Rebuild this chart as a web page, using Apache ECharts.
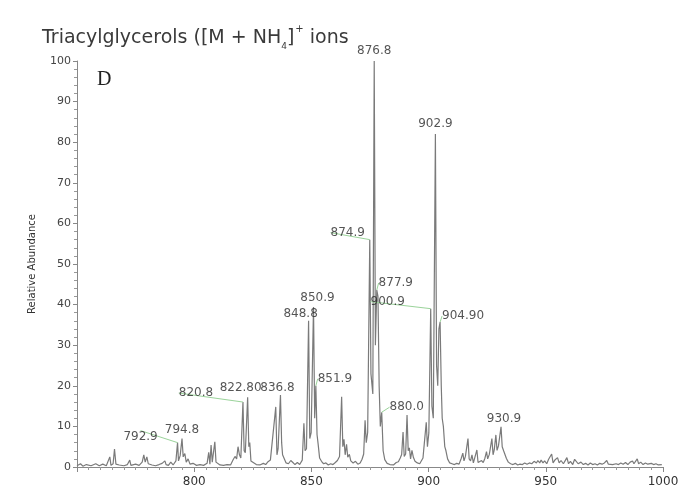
<!DOCTYPE html>
<html>
<head>
<meta charset="utf-8">
<script src="https://cdn.jsdelivr.net/npm/echarts@6/dist/echarts.min.js"></script>
<style>html,body{margin:0;padding:0;background:#fff}#c{width:695px;height:503px}</style>
</head>
<body>
<div id="c"></div>
<script>
// m/z values of the profile spectrum
const mzValues = [750,751.5,752.5,754,756,758,759.5,761,762.5,763.3,764,764.5,765.4,766,766.6,768,770,771.5,772.5,773,775,776.5,777.8,778.5,779.1,779.8,780.4,782,783.5,785,786.3,787.5,788,789,790,791,792.2,792.9,793.3,794,794.8,795.3,796,796.6,797.4,798.2,799.5,801,802.5,804,805.5,806.2,806.7,807.2,807.7,808.2,808.8,809.3,810,811,812.5,814,815.5,816.6,817.4,818.1,818.7,819.3,819.9,820.8,821.3,821.8,822.8,823.3,823.7,824.2,825,826.5,828,829.5,830.5,831.5,832.5,833.3,834.8,835.3,835.8,836.8,837.3,837.7,838.4,839.2,840.2,841.2,842.1,843,844,845,846.1,846.8,847.3,847.9,848.8,849.3,849.9,850.9,851.4,851.9,852.4,852.9,853.5,854.3,855.2,856.2,857.2,858.2,859.2,860.2,861.1,862,862.9,863.4,863.9,864.4,865,865.5,866.2,866.8,867.8,868.8,869.8,870.8,871.6,872.3,872.9,873.4,874,874.9,875.4,876.2,876.8,877.3,877.9,878.4,878.9,879.4,880,880.6,881.3,882.3,883.5,885,886.2,887.1,887.9,888.5,889.1,889.6,890.2,890.8,891.3,891.8,892.3,892.9,893.5,894.2,895.2,896.2,897,897.6,898.2,899,899.5,900.1,900.9,901.4,902,902.9,903.4,903.9,904.4,904.9,905.4,905.8,906.3,906.9,907.4,908.1,909,910,911,912,913,913.9,914.6,915.1,915.7,916.8,917.3,917.9,918.5,919.1,919.7,920.6,921.1,921.9,922.6,923.3,924,924.7,925.2,925.9,927,927.5,928,928.7,929.2,929.8,930.9,931.4,932,932.6,933.2,934,935,936,937,938,939,940,941,942,943,944,945,946,946.6,947.4,948,948.8,949.5,950.4,951.2,952.5,953.1,954,955,955.7,956.5,957.5,958.4,959,959.7,960.5,961.5,962.3,963,963.8,965,966,967,968,969,970,971,972,973,974,975,976,976.7,977.5,978.5,980,981,982,983,984,985,986,987,987.6,988.3,989,989.6,990.5,991.5,992.5,993.5,995,996,997,998,999.5];
// relative abundance at each m/z above
const abundance = [0.3,0.8,0.2,0.6,0.3,0.8,0.3,0.7,0.3,0.6,2.5,0.4,0.8,4.4,0.7,0.5,0.3,0.6,1.7,0.4,0.7,0.4,1.2,3,1.2,2.5,0.8,0.5,0.3,0.6,0.9,1.5,0.6,0.4,1.2,0.5,1.5,6,1.5,2.8,7,2.5,3.3,1.2,2,0.7,0.9,0.4,0.6,0.4,0.9,3.6,0.7,5.4,1.2,1.6,6.2,1.2,1.4,0.5,0.4,0.6,0.5,1.8,2.6,2,5,3,2.2,16,4,3.5,17.2,5,6,1.5,1.1,0.6,0.5,0.9,0.6,1.3,1.7,1.3,14.8,3,4.5,17.7,6,3,2.6,1,0.8,1.6,1.1,0.6,1.1,0.6,1.7,10.8,4,4.5,36,7,8.5,39.4,12,20,8,5.5,2.2,1.4,0.8,1,0.5,0.8,0.6,1.1,1.6,2.6,17.3,5,6.8,3,5.6,2.4,3.1,1.5,1,1.4,0.7,1,1.9,3.2,11.5,6,8.5,56,23,18,100,30,43.6,42,20,10,13.5,4,1.8,0.9,0.6,0.5,1.1,1.3,2.2,3.1,8.6,2.6,3.2,12.8,4,4.7,2,4.1,2.4,1.4,1,0.8,1.6,2.2,6,11,5,8.4,39,15,12,82,25,20,34,35.7,20,12,10,5,4,2,1,0.8,0.6,0.9,0.7,2.1,3.4,1.5,2.6,7,2,1.5,3,1,1.3,4.2,1.1,0.8,1.6,1.1,2.1,3.8,2,3.1,7,3,4.2,7.9,4.1,5.2,9.9,5,4,4.2,2.1,1.2,0.8,0.6,0.9,0.5,0.7,0.6,1,0.7,1,0.8,1.4,1,1.6,1,1.7,1,1.5,0.8,1.9,3.2,1,1.8,2.3,1,1.6,0.8,1.7,2.3,0.8,1.4,0.6,1.9,2.1,0.8,1.2,0.6,0.9,0.5,1,0.6,0.8,0.5,0.9,0.7,1,1.6,0.7,1.1,0.6,0.8,0.6,1,0.7,1.1,0.6,1.2,1.5,0.8,1.1,2,0.8,1.2,0.6,1,0.7,0.9,0.6,0.8,0.5,0.6];
// labelled peaks
const peakMz = [792.9,794.8,820.8,822.8,836.8,848.8,850.9,851.9,874.9,876.8,877.9,880.0,900.9,902.9,904.9,930.9];
const peakLabels = ['792.9','794.8','820.8','822.80','836.8','848.8','850.9','851.9','874.9','876.8','877.9','880.0','900.9','902.9','904.90','930.9'];
// x axis tick labels
const xTicks = [800,850,900,950,1000];

// label placement (styling only): [dx, dy, leader line]
const labelShift = [[-37,4,1],[0,1,0],[-47,1,1],[-7,1,0],[-3,3,0],[-8,3,0],[4,1,0],[19,3,1],[-22,3,1],[0,0,0],[19,3,1],[25,5,1],[-43,3,1],[0,0,0],[23,4,1],[3,2,0]];

const lineData = mzValues.map((m, i) => [m, abundance[i]]);
const peakData = peakMz.map((m, i) => {
  const idx = mzValues.indexOf(m);
  return {
    value: [m, abundance[idx]],
    name: peakLabels[i],
    labelLine: { show: !!labelShift[i][2] }
  };
});

const chart = echarts.init(document.getElementById('c'), null, { renderer: 'canvas' });
chart.setOption({
  animation: false,
  backgroundColor: '#fff',
  title: {
    left: 37, top: 21,
    text: '{a|Triacylglycerols ([M + NH}{sub|4}{a|]}{sup|+}{a| ions}',
    textStyle: {
      fontWeight: 'normal',
      rich: {
        a: { fontFamily: 'DejaVu Sans', fontWeight: 'normal', fontSize: 19, color: '#3a3a3a', lineHeight: 24 },
        sub: { fontFamily: 'DejaVu Sans', fontWeight: 'normal', fontSize: 9, color: '#3a3a3a', verticalAlign: 'bottom', lineHeight: 14, padding: [0, 0, -1, 0] },
        sup: { fontFamily: 'DejaVu Sans', fontWeight: 'normal', fontSize: 10, color: '#3a3a3a', verticalAlign: 'top', lineHeight: 14, padding: [-2, 0, 0, 1] }
      }
    }
  },
  graphic: [{
    type: 'text', left: 97, top: 70,
    style: { text: 'D', font: '20px "Liberation Serif"', fill: '#222' }
  }],
  grid: { left: 77, right: 32, top: 61, bottom: 36 },
  xAxis: {
    type: 'value', min: 750, max: 1000, interval: 50,
    showMinLabel: false,
    axisLine: { lineStyle: { color: '#888', width: 1 } },
    axisTick: { show: true, length: 5, lineStyle: { color: '#888' } },
    minorTick: { show: true, splitNumber: 10, length: 3, lineStyle: { color: '#999' } },
    splitLine: { show: false },
    axisLabel: {
      color: '#333', fontFamily: 'DejaVu Sans', fontSize: 12, margin: 9,
      formatter: v => (xTicks.indexOf(v) >= 0 ? String(v) : '')
    }
  },
  yAxis: {
    type: 'value', min: 0, max: 100, interval: 10,
    name: 'Relative Abundance', nameLocation: 'middle', nameGap: 40, nameRotate: 90,
    nameTextStyle: { color: '#333', fontFamily: 'DejaVu Sans', fontSize: 10 },
    axisLine: { show: true, lineStyle: { color: '#888', width: 1 } },
    axisTick: { show: true, length: 4, lineStyle: { color: '#888' } },
    minorTick: { show: true, splitNumber: 5, length: 3, lineStyle: { color: '#999' } },
    splitLine: { show: false },
    axisLabel: { color: '#444', fontFamily: 'DejaVu Sans', fontSize: 11, margin: 6 }
  },
  series: [{
    type: 'line',
    data: lineData,
    showSymbol: false,
    symbol: 'none',
    lineStyle: { color: '#7a7a7a', width: 1.2 },
    z: 2
  }, {
    type: 'scatter',
    data: peakData,
    symbolSize: 0,
    silent: true,
    z: 3,
    label: {
      show: true, position: 'top', distance: 4,
      formatter: p => p.name,
      color: '#2a2a2a', fontFamily: 'DejaVu Sans', fontSize: 12
    },
    labelLine: { show: false, lineStyle: { color: '#9ad39a', width: 1 } },
    labelLayout: function (params) {
      const s = labelShift[params.dataIndex];
      return { dx: s[0], dy: s[1] };
    }
  }]
});
</script>
</body>
</html>
